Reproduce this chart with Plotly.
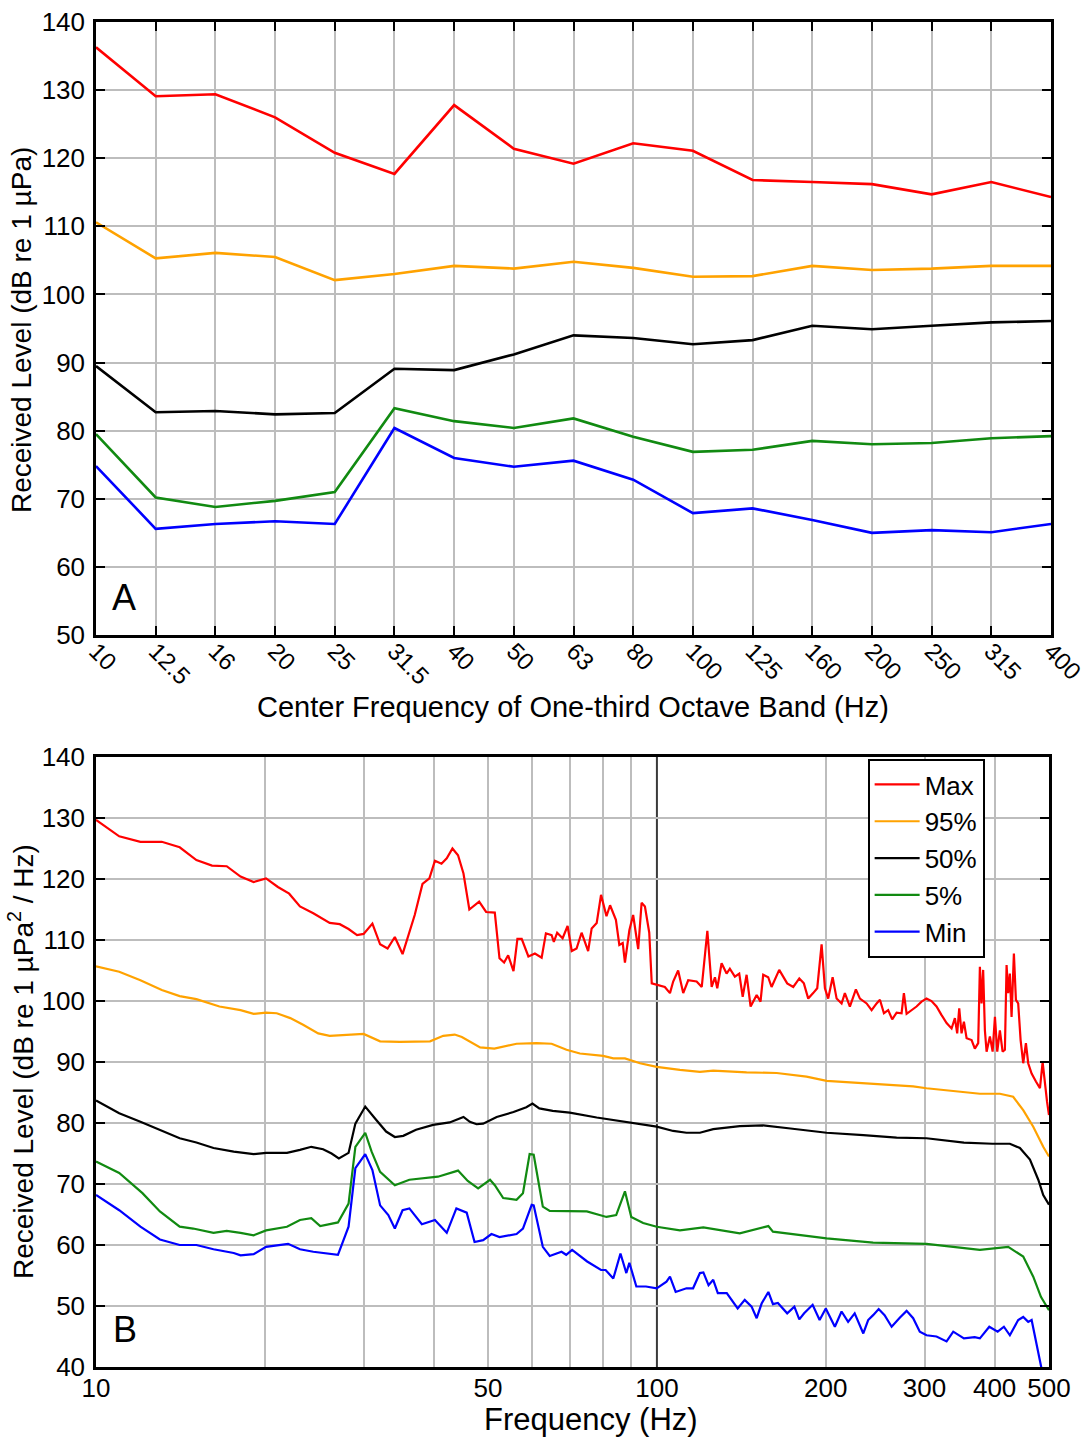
import plotly.graph_objects as go

# ---------------- Panel A: one-third octave band levels ----------------
bands = ["10", "12.5", "16", "20", "25", "31.5", "40", "50", "63", "80",
         "100", "125", "160", "200", "250", "315", "400"]
band_max = [136.3, 129.1, 129.4, 126.0, 120.8, 117.7, 127.8, 121.4, 119.2, 122.2,
            121.1, 116.8, 116.5, 116.2, 114.7, 116.5, 114.3]
band_p95 = [110.6, 105.3, 106.1, 105.5, 102.1, 103.0, 104.2, 103.8, 104.8, 103.9,
            102.6, 102.7, 104.2, 103.6, 103.8, 104.2, 104.2]
band_p50 = [89.5, 82.7, 82.9, 82.4, 82.6, 89.1, 88.9, 91.2, 94.0, 93.6,
            92.7, 93.3, 95.4, 94.9, 95.4, 95.9, 96.1]
band_p5 = [79.5, 70.2, 68.8, 69.7, 71.0, 83.3, 81.4, 80.4, 81.8, 79.1,
           76.9, 77.2, 78.5, 78.0, 78.2, 78.9, 79.2]
band_min = [74.8, 65.6, 66.3, 66.7, 66.3, 80.4, 76.0, 74.7, 75.6, 72.8,
            67.9, 68.6, 66.9, 65.0, 65.4, 65.1, 66.3]

# ---------------- Panel B: power spectral density percentiles ----------------
max_f = [10, 11.0, 12.0, 13.1, 14.1, 15.1, 16.1, 17.1, 18.1, 19.1, 20.1, 21.1, 22.1, 23.1,
         24.4, 26.1, 27.2, 28.2, 29.2, 30.0, 31.1, 32.1, 33.1, 34.1, 35.2, 37.0, 38.2, 39.3,
         40.2, 41.3, 42.2, 43.2, 44.2, 45.2, 46.3, 48.2, 49.6, 51.4, 52.4, 53.4, 54.3, 55.5,
         56.4, 57.4, 59.0, 60.6, 62.3, 63.4, 64.9, 65.5, 66.4, 67.9, 69.3, 70.5, 71.9, 73.4,
         75.4, 76.5, 78.1, 79.5, 81.3, 82.5, 84.5, 85.7, 86.9, 87.7, 89.3, 90.7, 92.6, 93.9,
         95.2, 96.9, 97.9, 100.5, 103.3, 105.5, 106.9, 109.1, 111.4, 113.7, 117.7, 120.2,
         123.0, 125.2, 126.9, 128.1, 130.4, 133.1, 134.9, 137.7, 140.2, 142.2, 144.5, 146.9,
         150.6, 153.0, 154.7, 157.9, 160.1, 165.2, 167.9, 170.7, 175.0, 179.4, 182.8, 186.1,
         189.9, 193.1, 196.6, 199.3, 202.0, 205.7, 209.1, 213.4, 216.3, 220.8, 226.3, 230.1,
         236.5, 241.4, 246.4, 249.8, 253.9, 258.4, 262.7, 267.5, 273.0, 275.6, 278.7, 284.4,
         290.3, 296.3, 302.4, 308.7, 315.1, 321.7, 328.4, 335.2, 339.8, 343.0, 345.9, 349.2,
         352.6, 356.5, 363.9, 368.8, 373.9, 376.5, 379.1, 381.6, 384.3, 387.0, 392.3, 396.7,
         400.5, 404.3, 408.7, 413.3, 417.2, 420.1, 422.9, 425.8, 428.8, 432.9, 436.5, 440.6,
         445.0, 449.8, 454.8, 459.1, 465.6, 473.9, 481.8, 487.1, 491.7, 496.0, 500.0]
max_v = [129.7, 127.0, 126.1, 126.1, 125.2, 123.1, 122.2, 122.1, 120.4, 119.5, 120.1, 118.7,
         117.6, 115.5, 114.4, 112.8, 112.6, 111.8, 110.8, 111.0, 112.7, 109.3, 108.6, 110.5,
         107.7, 114.1, 119.2, 120.1, 123.0, 122.5, 123.4, 125.0, 123.9, 120.9, 115.0, 116.3,
         114.6, 114.5, 107.0, 106.3, 107.5, 104.9, 110.2, 110.2, 107.3, 107.8, 107.1, 111.1,
         110.8, 109.7, 111.2, 110.3, 112.3, 108.2, 108.6, 111.2, 108.2, 111.9, 112.8, 117.4,
         113.9, 115.7, 113.3, 109.2, 109.5, 106.3, 111.6, 114.1, 108.5, 116.1, 115.5, 111.2,
         102.9, 102.6, 102.3, 101.3, 103.2, 105.0, 101.3, 103.4, 103.2, 102.3, 111.5, 102.3,
         103.9, 102.1, 106.2, 104.5, 105.3, 104.0, 104.5, 100.7, 104.3, 99.1, 101.0, 99.9,
         104.3, 103.9, 102.3, 105.1, 104.0, 102.9, 102.3, 103.7, 102.9, 100.4, 101.3, 102.1,
         109.3, 102.1, 100.4, 103.9, 100.4, 99.6, 101.3, 99.1, 101.9, 100.4, 99.6, 98.5,
         99.6, 100.2, 98.0, 98.5, 97.0, 98.1, 98.0, 101.3, 97.9, 98.5, 99.1, 99.9, 100.4,
         100.0, 99.1, 97.7, 96.4, 95.5, 97.2, 94.7, 98.8, 94.7, 96.6, 93.9, 93.6, 92.2, 93.1,
         105.6, 99.6, 105.1, 95.2, 91.7, 94.2, 91.7, 97.4, 91.7, 95.2, 91.7, 92.0, 105.9,
         101.3, 104.5, 97.4, 107.8, 100.2, 99.6, 93.6, 89.8, 93.1, 89.8, 88.1, 86.8, 85.7,
         90.0, 86.0, 83.5, 81.3]

p95_f = [10, 11.0, 12.0, 13.1, 14.1, 15.1, 16.6, 18.1, 19.1, 20.1, 21.0, 22.2, 23.4, 24.9,
         26.1, 28.0, 30.0, 32.1, 34.8, 39.4, 41.6, 43.6, 44.9, 48.4, 51.3, 56.2, 61.0, 64.9,
         69.0, 72.9, 78.4, 80.2, 83.6, 87.7, 93.3, 99.9, 109.9, 119.3, 126.0, 144.5, 163.5,
         184.8, 200.7, 236.5, 286.3, 302.4, 376.5, 408.7, 431.6, 449.8, 468.7, 488.3, 500.0]
p95_v = [105.7, 104.8, 103.4, 101.8, 100.8, 100.3, 99.1, 98.5, 97.9, 98.1, 98.0, 97.2, 96.1,
         94.7, 94.3, 94.4, 94.6, 93.4, 93.3, 93.4, 94.3, 94.5, 94.1, 92.4, 92.2, 93.0, 93.1,
         93.0, 92.0, 91.4, 91.1, 91.0, 90.6, 90.6, 89.8, 89.2, 88.7, 88.4, 88.6, 88.3, 88.2,
         87.6, 86.9, 86.5, 86.0, 85.7, 84.8, 84.8, 84.3, 82.1, 79.4, 76.1, 74.5]

p50_f = [10, 11.0, 12.0, 13.0, 14.1, 15.1, 16.2, 17.6, 19.1, 20.1, 21.9, 23.1, 24.2, 25.4,
         26.3, 27.1, 28.2, 29.0, 30.2, 31.6, 32.9, 34.1, 35.3, 37.2, 39.9, 42.7, 45.2, 46.4,
         47.7, 49.0, 51.8, 55.5, 58.5, 60.0, 61.7, 65.2, 69.9, 78.1, 88.2, 99.9, 106.9, 112.9,
         119.3, 126.0, 140.5, 154.7, 173.0, 200.7, 233.3, 267.5, 302.4, 352.6, 396.3, 425.8,
         443.7, 462.4, 478.5, 488.3, 500.0]
p50_v = [83.7, 81.6, 80.2, 78.9, 77.5, 76.8, 75.9, 75.3, 74.9, 75.1, 75.1, 75.6, 76.1, 75.7,
         75.0, 74.2, 75.1, 79.9, 82.7, 80.5, 78.6, 77.7, 77.9, 78.9, 79.7, 80.1, 81.0, 80.2,
         79.8, 79.9, 81.0, 81.8, 82.6, 83.2, 82.4, 82.0, 81.7, 80.9, 80.2, 79.4, 78.7, 78.4,
         78.4, 79.0, 79.5, 79.6, 79.1, 78.4, 78.0, 77.6, 77.5, 76.8, 76.6, 76.6, 75.9, 74.0,
         70.7, 68.2, 66.6]

p5_f = [10, 11.0, 12.1, 13.0, 14.1, 14.9, 16.2, 17.1, 18.1, 19.1, 20.1, 21.9, 23.1, 24.2,
        25.1, 27.0, 28.2, 29.0, 30.2, 31.0, 32.1, 34.1, 36.2, 38.4, 40.7, 44.2, 46.0, 48.0,
        50.4, 51.4, 53.2, 56.2, 57.7, 59.3, 60.3, 62.6, 64.4, 75.0, 81.3, 84.6, 87.7, 90.0,
        94.5, 99.9, 109.9, 121.0, 140.5, 158.0, 161.0, 200.7, 242.9, 302.4, 376.5, 422.9,
        449.8, 468.7, 483.7, 500.0]
p5_v = [73.7, 71.8, 68.5, 65.5, 63.0, 62.7, 62.0, 62.3, 62.0, 61.6, 62.4, 63.0, 64.1, 64.4,
        63.1, 63.7, 66.8, 76.1, 78.4, 75.3, 72.0, 69.8, 70.7, 70.9, 71.2, 72.2, 70.5, 69.3,
        70.7, 69.8, 67.7, 67.4, 68.5, 74.9, 74.8, 66.3, 65.6, 65.5, 64.6, 64.9, 68.8, 64.6,
        63.6, 63.0, 62.4, 62.9, 61.9, 63.1, 62.2, 61.1, 60.4, 60.2, 59.2, 59.7, 58.1, 54.8,
        51.5, 49.3]

min_f = [10, 11.0, 12.0, 13.0, 14.1, 15.1, 16.2, 17.6, 18.1, 19.1, 20.1, 22.0, 23.1, 24.4,
         27.0, 28.2, 29.0, 30.2, 31.1, 32.1, 33.2, 34.1, 35.2, 36.2, 38.1, 40.2, 42.2, 43.9,
         45.8, 47.3, 49.0, 50.7, 52.4, 56.2, 57.7, 59.8, 60.3, 62.6, 64.4, 67.6, 68.9, 70.6,
         75.1, 79.5, 81.0, 83.6, 86.1, 88.2, 89.3, 91.9, 95.6, 99.9, 104.0, 105.5, 108.0,
         112.9, 116.0, 119.3, 121.0, 123.6, 126.0, 128.4, 133.2, 139.3, 143.4, 147.5, 150.6,
         153.7, 158.0, 161.0, 164.3, 170.7, 175.8, 179.4, 183.0, 189.5, 195.0, 200.0, 207.6,
         213.4, 219.2, 225.2, 233.3, 238.0, 242.9, 248.5, 254.6, 262.1, 271.2, 278.7, 286.3,
         294.2, 302.4, 315.1, 328.4, 337.5, 352.6, 368.5, 376.5, 391.3, 405.0, 415.5, 425.8,
         440.6, 449.8, 459.1, 465.6, 474.8, 484.0, 488.0]
min_v = [68.2, 65.7, 63.0, 60.9, 60.0, 60.0, 59.3, 58.7, 58.3, 58.5, 59.7, 60.2, 59.3, 58.9,
         58.4, 63.0, 72.6, 74.9, 72.3, 66.5, 64.9, 62.7, 65.7, 66.0, 63.4, 64.1, 62.0, 66.0,
         65.3, 60.5, 60.8, 61.8, 61.3, 61.8, 62.7, 66.6, 66.5, 59.7, 58.2, 58.9, 58.4, 59.2,
         57.3, 55.9, 55.9, 54.5, 58.6, 55.4, 57.1, 53.2, 53.2, 52.9, 54.0, 54.8, 52.3, 52.9,
         52.9, 55.4, 55.5, 53.4, 54.3, 52.1, 52.1, 49.6, 51.0, 49.9, 48.0, 50.4, 52.3, 50.3,
         50.5, 48.8, 49.9, 47.8, 48.8, 50.2, 47.7, 49.6, 46.6, 49.1, 47.4, 48.8, 45.5, 47.7,
         48.5, 49.5, 48.5, 46.6, 48.1, 49.2, 48.0, 45.8, 45.2, 45.0, 44.2, 45.8, 44.7, 44.9,
         44.7, 46.6, 45.8, 46.6, 45.2, 47.7, 48.2, 47.4, 47.7, 44.0, 40.3, 38.5]

series_names = ["Max", "95%", "50%", "5%", "Min"]
series_colors = ["#ff0000", "#ffa200", "#000000", "#118a11", "#0000ff"]

band_series = [band_max, band_p95, band_p50, band_p5, band_min]
psd_series = [(max_f, max_v), (p95_f, p95_v), (p50_f, p50_v), (p5_f, p5_v), (min_f, min_v)]

# log-axis grid positions; 100 Hz gets its own darker line
psd_grid = [20, 30, 40, 50, 60, 70, 80, 90, 200, 300, 400]

FONT = "Arial, Liberation Sans, sans-serif"
GRID = "#bdbdbd"

fig = go.Figure()

for name, color, vals in zip(series_names, series_colors, band_series):
    fig.add_trace(go.Scatter(x=bands, y=vals, mode="lines", name=name,
                             line=dict(color=color, width=2.6),
                             showlegend=False, xaxis="x", yaxis="y"))

for name, color, (f, v) in zip(series_names, series_colors, psd_series):
    fig.add_trace(go.Scatter(x=f, y=v, mode="lines", name=name,
                             line=dict(color=color, width=2.2),
                             showlegend=True, xaxis="x2", yaxis="y2"))

axis_common = dict(showline=True, linecolor="black", linewidth=2.5, mirror="allticks",
                   ticks="inside", ticklen=9, tickwidth=2, tickcolor="black",
                   gridcolor=GRID, gridwidth=2, zeroline=False, automargin=False,
                   tickfont=dict(family=FONT, size=26, color="black"))

fig.update_layout(
    width=1083, height=1437,
    margin=dict(l=96, r=32, t=22, b=70),
    paper_bgcolor="white", plot_bgcolor="white",
    font=dict(family=FONT, size=26, color="black"),
    xaxis=dict(axis_common, type="category", range=[0, 16], domain=[0, 1],
               anchor="y", tickangle=45, showgrid=True, ticklabelstandoff=-10,
               tickfont=dict(family=FONT, size=24, color="black")),
    yaxis=dict(axis_common, range=[50, 140], dtick=10, domain=[0.5442, 1],
               anchor="x", showgrid=True, ticklabelstandoff=3),
    xaxis2=dict(axis_common, type="log", range=[1, 2.69897], domain=[0, 0.9979],
                anchor="y2", ticks="", tickvals=[10, 50, 100, 200, 300, 400, 500],
                ticktext=["10", "50", "100", "200", "300", "400", "500"],
                showgrid=False, ticklabelstandoff=-4,
                minor=dict(tickvals=psd_grid, showgrid=True,
                           gridcolor=GRID, gridwidth=2, ticks="")),
    yaxis2=dict(axis_common, range=[40, 140], dtick=10, domain=[0, 0.4535],
                anchor="x2", showgrid=True, ticklabelstandoff=3),
    legend=dict(x=0.808, y=0.452, xanchor="left", yanchor="top",
                bgcolor="white", bordercolor="black", borderwidth=2,
                font=dict(family=FONT, size=26, color="black"),
                itemwidth=45, tracegroupgap=0),
    shapes=[dict(type="line", xref="x2", yref="y2 domain", x0=100, x1=100, y0=0, y1=1,
                 line=dict(color="#3a3a3a", width=2), layer="below")],
    annotations=[
        dict(text="A", xref="x domain", yref="y domain", x=0.015, y=0.025,
             xanchor="left", yanchor="bottom", showarrow=False,
             font=dict(family=FONT, size=36, color="black")),
        dict(text="B", xref="x2 domain", yref="y2 domain", x=0.016, y=0.025,
             xanchor="left", yanchor="bottom", showarrow=False,
             font=dict(family=FONT, size=36, color="black")),
        dict(text="Center Frequency of One-third Octave Band (Hz)", xref="paper", yref="paper",
             x=0.4995, y=0.4907, xanchor="center", yanchor="middle", showarrow=False,
             font=dict(family=FONT, size=29, color="black")),
        dict(text="Frequency (Hz)", xref="paper", yref="paper",
             x=0.518, y=-0.0394, xanchor="center", yanchor="middle", showarrow=False,
             font=dict(family=FONT, size=31, color="black")),
        dict(text="Received Level (dB re 1 µPa)", xref="paper", yref="paper",
             x=-0.0785, y=0.771, xanchor="center", yanchor="middle", showarrow=False,
             textangle=-90, font=dict(family=FONT, size=28, color="black")),
        dict(text="Received Level (dB re 1 µPa<sup>2</sup> / Hz)", xref="paper", yref="paper",
             x=-0.0785, y=0.2268, xanchor="center", yanchor="middle", showarrow=False,
             textangle=-90, font=dict(family=FONT, size=28, color="black")),
    ],
)

fig.write_html("out.html")
